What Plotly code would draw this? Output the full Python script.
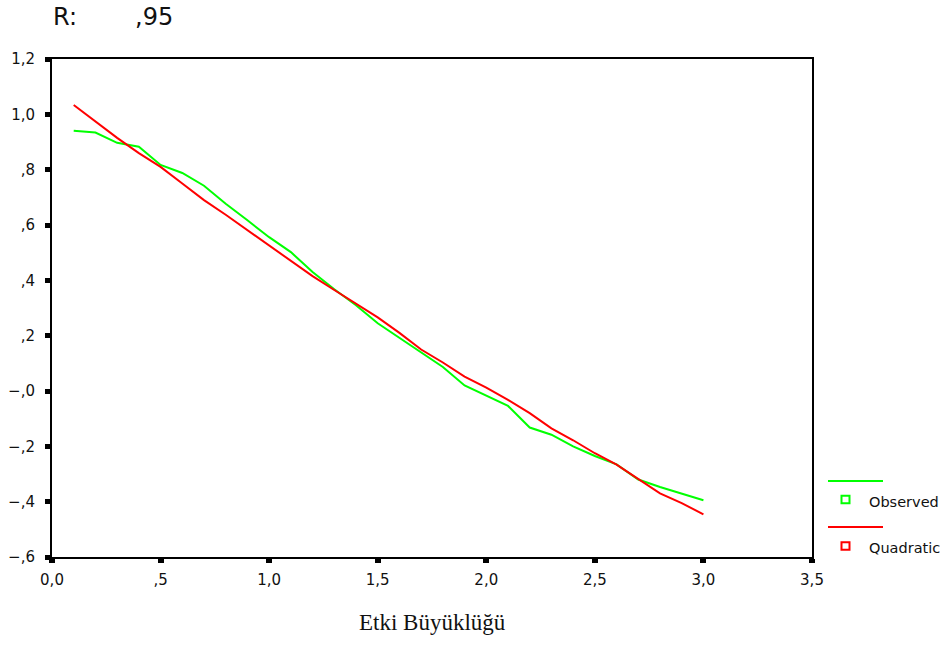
import plotly.graph_objects as go

# ---- data ----
x_vals = [0.1, 0.2, 0.3, 0.4, 0.5, 0.6, 0.7, 0.8, 0.9, 1.0,
          1.1, 1.2, 1.3, 1.4, 1.5, 1.6, 1.7, 1.8, 1.9, 2.0,
          2.1, 2.2, 2.3, 2.4, 2.5, 2.6, 2.7, 2.8, 2.9, 3.0]
observed = [0.941, 0.934, 0.897, 0.883, 0.817, 0.788, 0.742, 0.677, 0.617, 0.556,
            0.502, 0.430, 0.368, 0.310, 0.245, 0.193, 0.140, 0.087, 0.020, -0.018,
            -0.054, -0.132, -0.158, -0.200, -0.235, -0.265, -0.320, -0.347, -0.370, -0.395]
quadratic = [1.034, 0.975, 0.915, 0.860, 0.810, 0.750, 0.690, 0.637, 0.582, 0.527,
             0.473, 0.415, 0.365, 0.315, 0.266, 0.210, 0.150, 0.103, 0.052, 0.012,
             -0.032, -0.080, -0.135, -0.178, -0.225, -0.266, -0.317, -0.370, -0.405, -0.446]

x_tickvals = [0.0, 0.5, 1.0, 1.5, 2.0, 2.5, 3.0, 3.5]
x_ticktext = ["0,0", ",5", "1,0", "1,5", "2,0", "2,5", "3,0", "3,5"]
y_tickvals = [1.2, 1.0, 0.8, 0.6, 0.4, 0.2, 0.0, -0.2, -0.4, -0.6]
y_ticktext = ["1,2", "1,0", ",8", ",6", ",4", ",2", "\u2212,0", "\u2212,2", "\u2212,4", "\u2212,6"]

series_names = ["Observed", "Quadratic"]
series_colors = ["#00ff00", "#ff0000"]
r_label = "R:"
r_value = ",95"
x_title = "Etki Büyüklüğü"

# ---- figure ----
W, H = 946, 661
L, R, T, B = 52, 134, 59, 104
PW, PH = W - L - R, H - T - B

def px_x(p):
    return (p - L) / PW

def px_y(p):
    return (H - B - p) / PH

fig = go.Figure()
for name, ys, col in zip(series_names, [observed, quadratic], series_colors):
    fig.add_trace(go.Scatter(x=x_vals, y=ys, mode="lines", name=name,
                             line=dict(color=col, width=2), showlegend=False))

sans = "DejaVu Sans"
fig.update_layout(
    width=W, height=H,
    margin=dict(l=L, r=R, t=T, b=B, autoexpand=False),
    paper_bgcolor="white", plot_bgcolor="white",
    font=dict(family=sans, size=15, color="#111111"),
    xaxis=dict(range=[0, 3.5], tickvals=x_tickvals, ticktext=x_ticktext,
               showgrid=False, zeroline=False, automargin=False,
               showline=True, linecolor="black", linewidth=2, mirror=True,
               ticks="outside", ticklen=4, tickwidth=6, tickcolor="black",
               ticklabelstandoff=4, tickfont=dict(family=sans, size=15)),
    yaxis=dict(range=[-0.6, 1.2], tickvals=y_tickvals, ticktext=y_ticktext,
               showgrid=False, zeroline=False, automargin=False,
               showline=True, linecolor="black", linewidth=2, mirror=True,
               ticks="outside", ticklen=5, tickwidth=5, tickcolor="black",
               ticklabelstandoff=7, tickfont=dict(family=sans, size=15)),
)

annotations = [
    dict(text=r_label, x=px_x(51), y=px_y(17), xanchor="left", yanchor="middle",
         font=dict(family=sans, size=24)),
    dict(text=r_value, x=px_x(133), y=px_y(17), xanchor="left", yanchor="middle",
         font=dict(family=sans, size=24)),
    dict(text=x_title, x=0.5, y=px_y(622), xanchor="center", yanchor="middle",
         font=dict(family="Liberation Serif", size=23, color="#111111")),
]
shapes = []
legend_rows = [(481, 499.5, 502), (527, 546, 548)]
for (ly, sy, ty), name, col in zip(legend_rows, series_names, series_colors):
    shapes.append(dict(type="line", xref="paper", yref="paper",
                       x0=px_x(828), x1=px_x(883), y0=px_y(ly), y1=px_y(ly),
                       line=dict(color=col, width=2)))
    shapes.append(dict(type="rect", xref="paper", yref="paper",
                       x0=px_x(841.5), x1=px_x(849.5), y0=px_y(sy + 3.8), y1=px_y(sy - 3.8),
                       line=dict(color=col, width=2), fillcolor="white"))
    annotations.append(dict(text=name, x=px_x(867), y=px_y(ty), xanchor="left",
                            yanchor="middle", font=dict(family=sans, size=14.5)))

for a in annotations:
    a.update(xref="paper", yref="paper", showarrow=False)
fig.update_layout(annotations=annotations, shapes=shapes)

fig.write_html("out.html")
